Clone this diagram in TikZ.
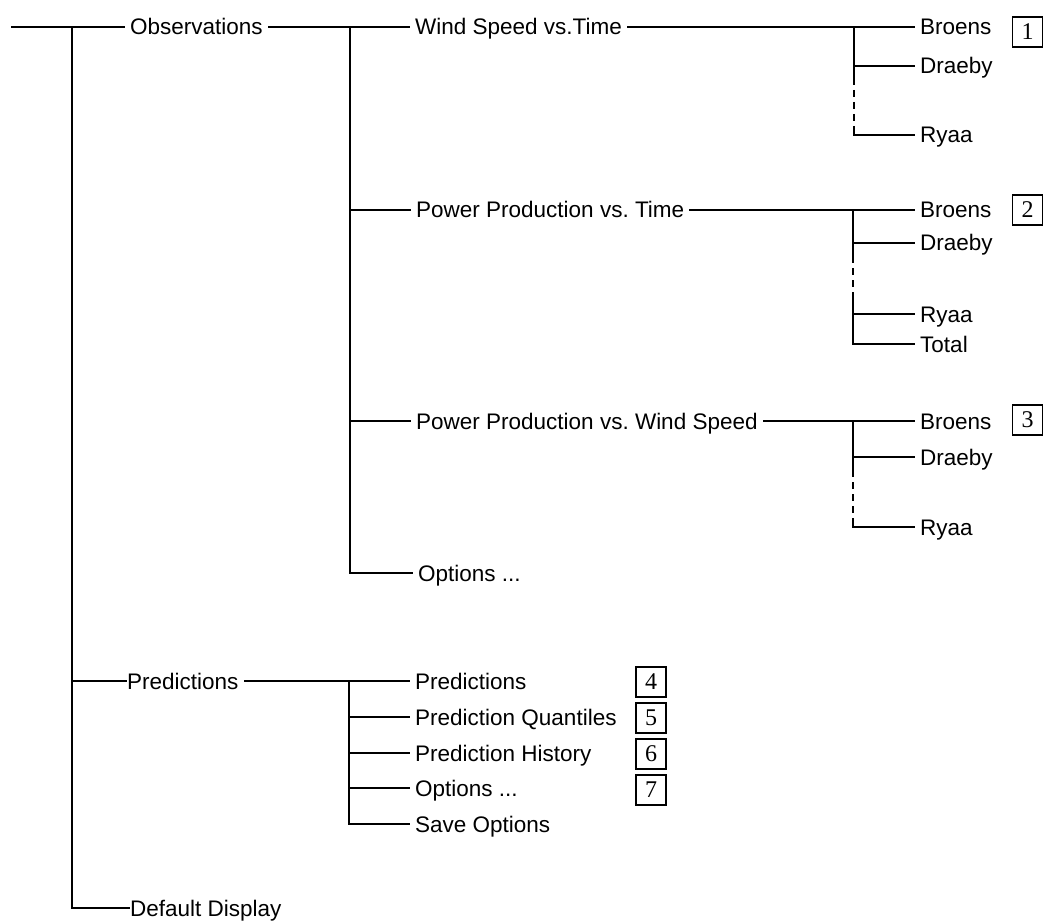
\documentclass[tikz,border=0pt]{standalone}
\usepackage{fontspec}
\setmainfont{Liberation Sans}
\newfontfamily\boxfont{Liberation Serif}
\frenchspacing
\begin{document}
\begin{tikzpicture}[x=1pt,y=-1pt,
  ln/.style={line width=2pt, line cap=rect},
  dsh/.style={line width=2pt, dash pattern=on 7pt off 5pt},
  touch/.style={shorten >=-5pt},
  lbl/.style={font=\fontsize{22.5}{27}\selectfont, inner xsep=6pt, inner ysep=0pt,
              text height=16pt, text depth=0pt, anchor=west},
  numbox/.style={draw, line width=1.4pt, minimum width=30pt, minimum height=30pt,
              inner sep=0pt, font=\boxfont\fontsize{24}{24}\selectfont}]
\useasboundingbox (0,0) rectangle (1045,923);

% top level
\coordinate (r0) at (12,27);
\coordinate (j0) at (72,27);
\node[lbl] (obs)  at (124,27)  {Observations};
\node[lbl] (pred) at (121,681) {Predictions};
\node[lbl] (defd) at (124,908) {Default Display};

% observations level
\node[lbl] (ws)   at (409,27)  {Wind Speed vs.Time};
\node[lbl] (ppt)  at (410,210) {Power Production vs. Time};
\node[lbl] (ppws) at (410,421) {Power Production vs. Wind Speed};
\node[lbl] (optA) at (412,573) {Options ...};
\coordinate (j1) at (350,27);

% wind speed group
\node[lbl] (b1) at (914,27)  {Broens};
\node[lbl] (d1) at (914,66)  {Draeby};
\node[lbl] (r1) at (914,135) {Ryaa};
\coordinate (k1)  at (854,27);
\coordinate (k1a) at (854,78);
\coordinate (k1b) at (854,130);

% power vs time group
\node[lbl] (b2) at (914,210) {Broens};
\node[lbl] (d2) at (914,243) {Draeby};
\node[lbl] (r2) at (914,314) {Ryaa};
\node[lbl] (t2) at (914,344) {Total};
\coordinate (k2)  at (853,210);
\coordinate (k2a) at (853,256);
\coordinate (k2b) at (853,300);

% power vs wind speed group
\node[lbl] (b3) at (914,421) {Broens};
\node[lbl] (d3) at (914,457) {Draeby};
\node[lbl] (r3) at (914,527) {Ryaa};
\coordinate (k3)  at (853,421);
\coordinate (k3a) at (853,470);
\coordinate (k3b) at (853,522);

% predictions group
\node[lbl] (p1) at (409,681) {Predictions};
\node[lbl] (p2) at (409,717) {Prediction Quantiles};
\node[lbl] (p3) at (409,753) {Prediction History};
\node[lbl] (p4) at (409,788) {Options ...};
\node[lbl] (p5) at (409,824) {Save Options};
\coordinate (kp) at (349,681);

% numbered boxes
\node[numbox] (box1) at (1027.5,32)  {1};
\node[numbox] (box2) at (1027.5,210) {2};
\node[numbox] (box3) at (1027.5,420) {3};
\node[numbox] (box4) at (651,682) {4};
\node[numbox] (box5) at (651,718) {5};
\node[numbox] (box6) at (651,754) {6};
\node[numbox] (box7) at (651,790) {7};

% connectors: top level
\draw[ln] (r0) -- (obs.west);
\draw[ln,touch] (j0) |- (defd.west);
\draw[ln,touch] (j0 |- pred.west) -- (pred.west);

% connectors: observations
\draw[ln] (obs.east) -- (ws.west);
\draw[ln] (j1) |- (optA.west);
\draw[ln] (j1 |- ppt.west) -- (ppt.west);
\draw[ln] (j1 |- ppws.west) -- (ppws.west);

% wind speed group
\draw[ln] (ws.east) -- (b1.west);
\draw[ln] (k1) |- (d1.west);
\draw[ln] (k1) -- (k1a);
\draw[dsh] (k1a) -- (k1b);
\draw[ln] (k1b) |- (r1.west);

% power vs time group
\draw[ln] (ppt.east) -- (b2.west);
\draw[ln] (k2) |- (d2.west);
\draw[ln] (k2) -- (k2a);
\draw[dsh] (k2a) -- (k2b);
\draw[ln] (k2b) |- (t2.west);
\draw[ln] (k2b |- r2.west) -- (r2.west);

% power vs wind speed group
\draw[ln] (ppws.east) -- (b3.west);
\draw[ln] (k3) |- (d3.west);
\draw[ln] (k3) -- (k3a);
\draw[dsh] (k3a) -- (k3b);
\draw[ln] (k3b) |- (r3.west);

% predictions group
\draw[ln] (pred.east) -- (p1.west);
\draw[ln] (kp) |- (p5.west);
\draw[ln] (kp |- p2.west) -- (p2.west);
\draw[ln] (kp |- p3.west) -- (p3.west);
\draw[ln] (kp |- p4.west) -- (p4.west);
\end{tikzpicture}
\end{document}
